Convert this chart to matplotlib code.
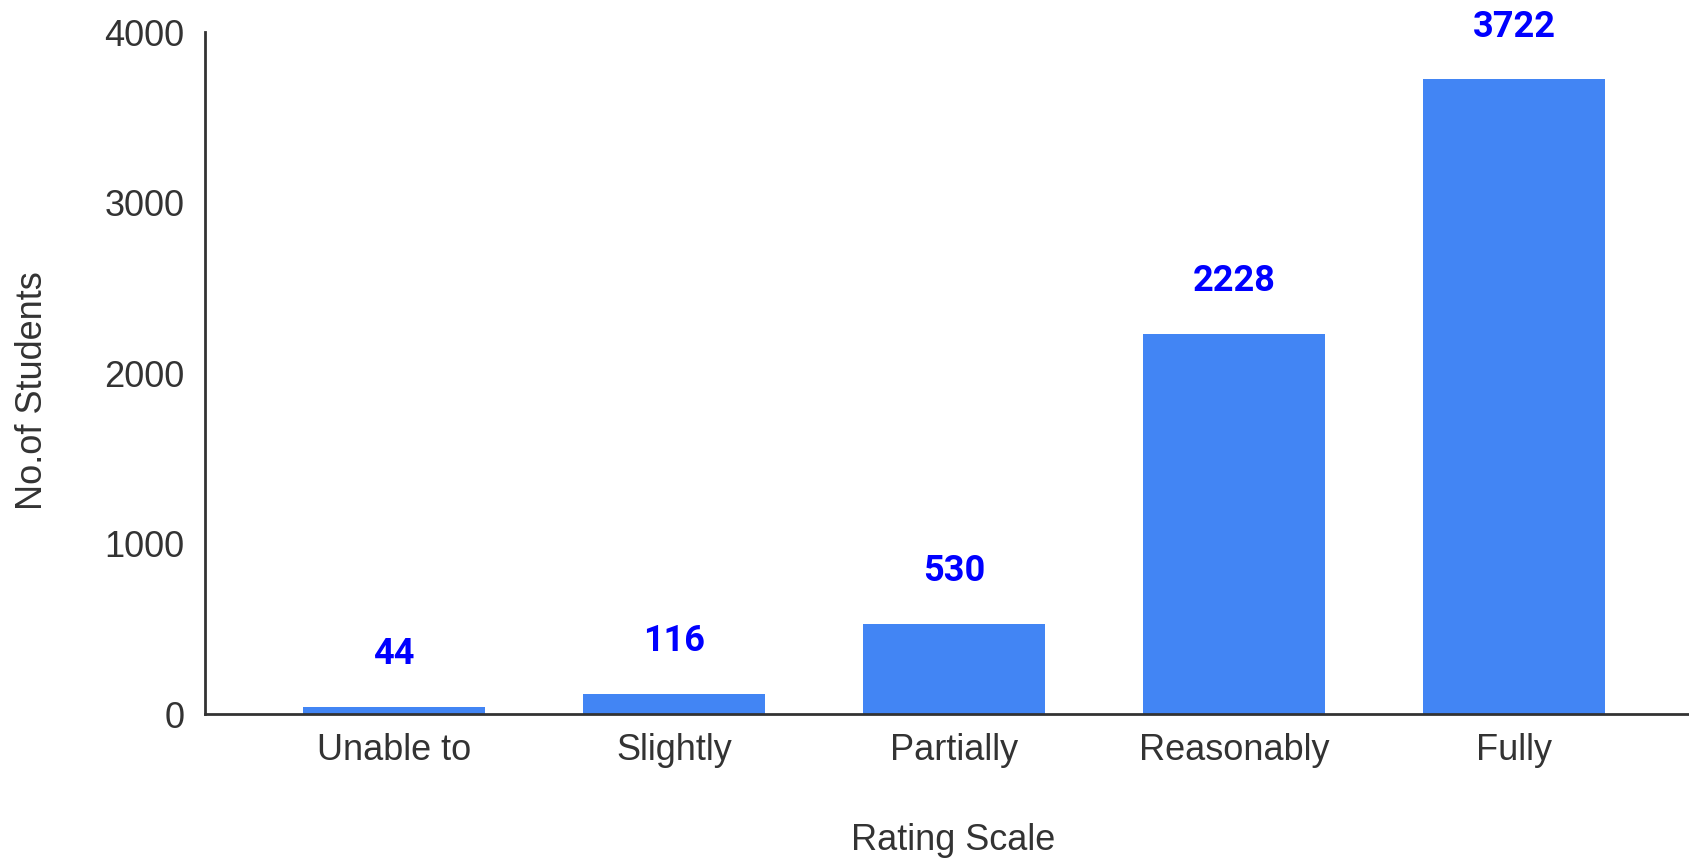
import matplotlib
matplotlib.use('Agg')
import matplotlib.pyplot as plt

categories = ['Unable to', 'Slightly', 'Partially', 'Reasonably', 'Fully']
students = [44, 116, 530, 2228, 3722]
yticks = [0, 1000, 2000, 3000, 4000]

plt.rcParams['font.family'] = ['Liberation Sans', 'DejaVu Sans']

fig = plt.figure(figsize=(16.89, 8.61), dpi=100)
ax = fig.add_axes([0.1214, 0.1707, 0.8786, 0.7921])

x = list(range(len(categories)))
bars = ax.bar(x, students, width=0.65, color='#4285F4')

for xi, v in zip(x, students):
    ax.annotate(str(v), (xi, v), xytext=(0, 38), textcoords='offset points',
                ha='center', va='center', fontsize=26, fontweight='bold',
                color='#0000FF', family=['Roboto', 'DejaVu Sans'])

ax.set_xlim(-0.675, 4.625)
ax.set_ylim(0, 4000)
ax.set_yticks(yticks)
ax.set_xticks(x)
ax.set_xticklabels(categories)
ax.tick_params(axis='both', length=0, labelsize=26, colors='#333333')
ax.tick_params(axis='y', pad=15)
ax.tick_params(axis='x', pad=14)

for s in ['top', 'right']:
    ax.spines[s].set_visible(False)
for s in ['left', 'bottom']:
    ax.spines[s].set_color('#333333')
    ax.spines[s].set_linewidth(2)

ax.set_ylabel('No.of Students', fontsize=26, color='#333333', va='center')
ax.yaxis.set_label_coords(-0.116, 0.474)
ax.set_xlabel('Rating Scale', fontsize=26, color='#333333', va='center')
ax.xaxis.set_label_coords(0.504, -0.185)

fig.savefig('out.png', dpi=100)
